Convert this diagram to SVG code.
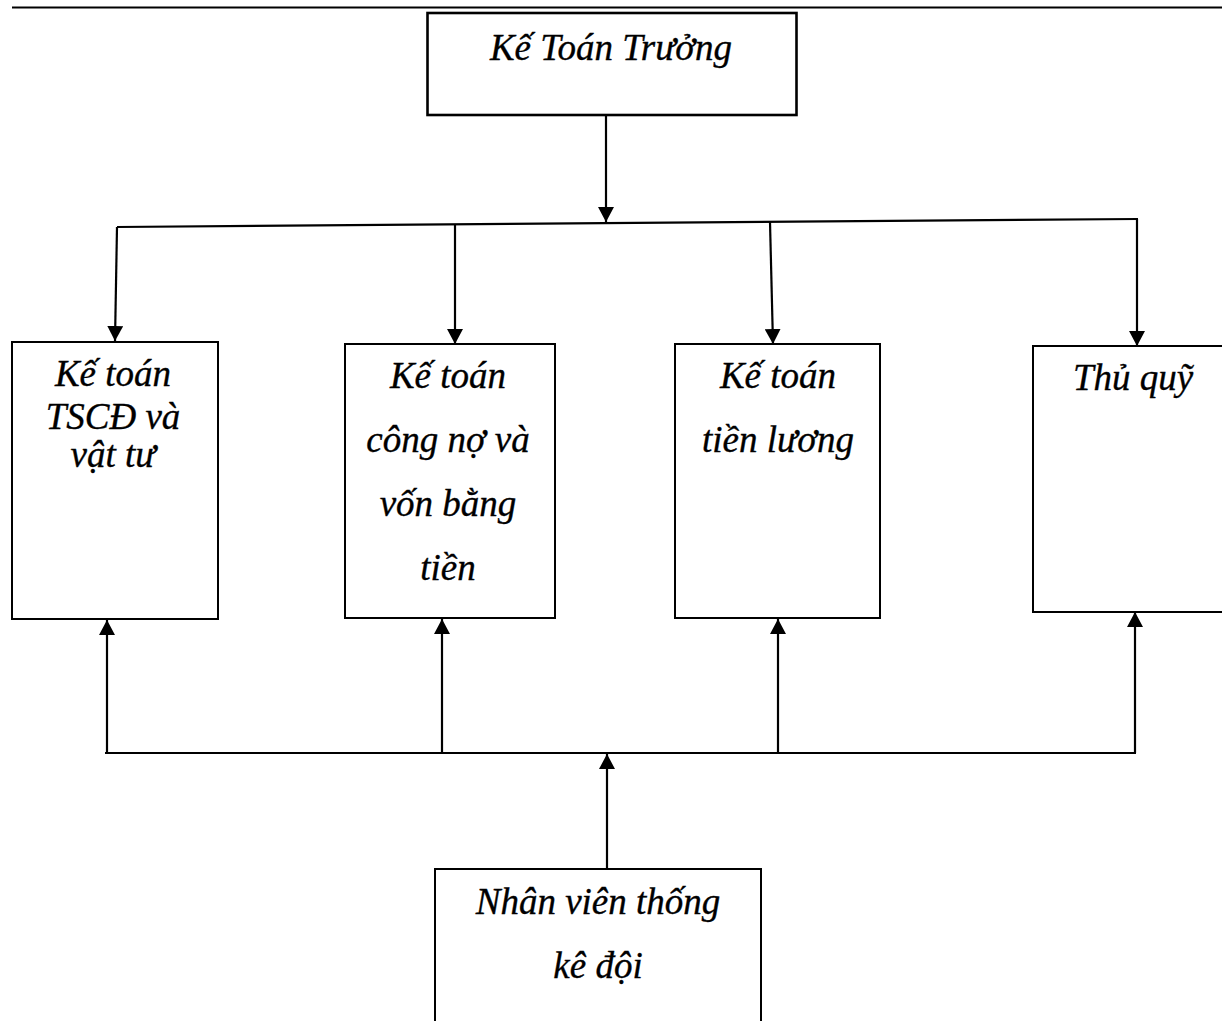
<svg xmlns="http://www.w3.org/2000/svg" width="1222" height="1021" viewBox="0 0 1222 1021">
<style>
.box{fill:#fff;stroke:#000;stroke-width:2}
.lbl{font-family:"Liberation Serif","Times New Roman",serif;font-style:italic;font-size:37px;fill:#000;stroke:#000;stroke-width:0.35;text-anchor:middle}
.ln{stroke:#000;stroke-width:2.2;fill:none}
.arr{stroke:#000;stroke-width:2.2;fill:none;marker-end:url(#ah)}
</style>
<defs>
<marker id="ah" markerUnits="userSpaceOnUse" markerWidth="16" markerHeight="16" viewBox="0 0 16 16" refX="15" refY="8" orient="auto">
<path d="M0,0 L15,8 L0,16 Z" fill="#000"/>
</marker>
</defs>
<rect width="1222" height="1021" fill="#fff"/>
<line x1="12" y1="7.5" x2="1222" y2="7.5" stroke="#000" stroke-width="2"/>
<g id="connectors">
<line class="arr" x1="606" y1="115" x2="606" y2="222"/>
<line class="ln" x1="117" y1="227" x2="1138" y2="219"/>
<line class="arr" x1="117" y1="227" x2="115" y2="341"/>
<line class="arr" x1="455" y1="224.5" x2="455" y2="344"/>
<line class="arr" x1="770" y1="222" x2="773" y2="344"/>
<line class="arr" x1="1137" y1="219" x2="1137" y2="346"/>
<line class="ln" x1="105" y1="753" x2="1136" y2="753"/>
<line class="arr" x1="107" y1="753" x2="107" y2="620"/>
<line class="arr" x1="442" y1="753" x2="442" y2="619"/>
<line class="arr" x1="778" y1="753" x2="778" y2="619"/>
<line class="arr" x1="1135" y1="753" x2="1135" y2="612"/>
<line class="arr" x1="607" y1="869" x2="607" y2="754"/>
</g>
<g id="ke-toan-truong">
<rect class="box" x="427.5" y="13" width="369" height="102" style="stroke-width:2.6"/>
<text class="lbl" x="611" y="60">Kế Toán Trưởng</text>
</g>
<g id="kt-tscd">
<rect class="box" x="12" y="342" width="206" height="277"/>
<text class="lbl" x="113" y="386">Kế toán</text>
<text class="lbl" x="113" y="429">TSCĐ và</text>
<text class="lbl" x="113" y="467">vật tư</text>
</g>
<g id="kt-cong-no">
<rect class="box" x="345" y="344" width="210" height="274"/>
<text class="lbl" x="448" y="388">Kế toán</text>
<text class="lbl" x="448" y="452">công nợ và</text>
<text class="lbl" x="448" y="516">vốn bằng</text>
<text class="lbl" x="448" y="580">tiền</text>
</g>
<g id="kt-tien-luong">
<rect class="box" x="675" y="344" width="205" height="274"/>
<text class="lbl" x="778" y="388">Kế toán</text>
<text class="lbl" x="778" y="452">tiền lương</text>
</g>
<g id="thu-quy">
<rect class="box" x="1033" y="346" width="200" height="266"/>
<text class="lbl" x="1133" y="390">Thủ quỹ</text>
</g>
<g id="nhan-vien">
<rect class="box" x="435" y="869" width="326" height="170"/>
<text class="lbl" x="598" y="914">Nhân viên thống</text>
<text class="lbl" x="598" y="978">kê đội</text>
</g>
</svg>
